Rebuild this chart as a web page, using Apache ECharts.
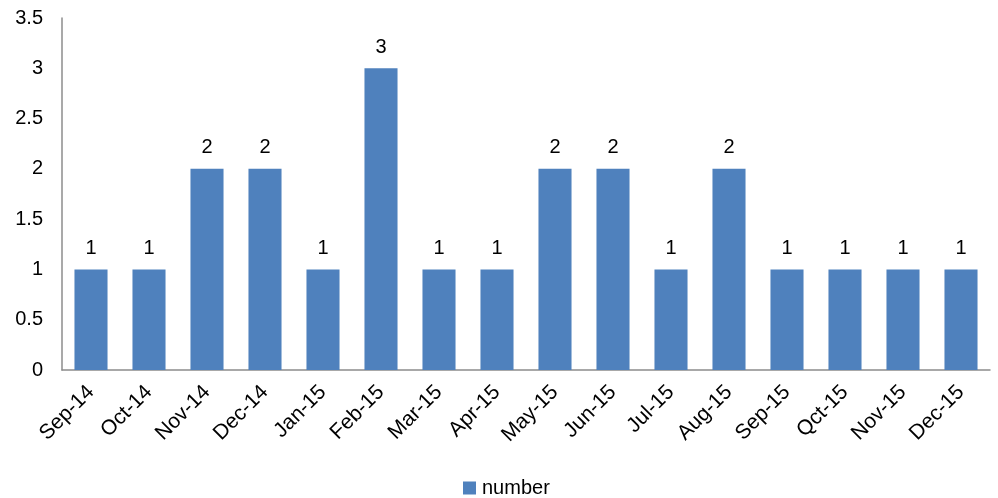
<!DOCTYPE html>
<html>
<head>
<meta charset="utf-8">
<script src="https://cdn.jsdelivr.net/npm/echarts@6/dist/echarts.min.js"></script>
<style>
  html, body { margin: 0; padding: 0; background: #fff; }
  #chart { width: 998px; height: 498px; }
</style>
</head>
<body>
<div id="chart"></div>
<script>
const months = ['Sep-14', 'Oct-14', 'Nov-14', 'Dec-14', 'Jan-15', 'Feb-15', 'Mar-15', 'Apr-15',
  'May-15', 'Jun-15', 'Jul-15', 'Aug-15', 'Sep-15', 'Qct-15', 'Nov-15', 'Dec-15'];
const counts = [1, 1, 2, 2, 1, 3, 1, 1, 2, 2, 1, 2, 1, 1, 1, 1];
const yTicks = { min: 0, max: 3.5, interval: 0.5 };

~function () {
  let myChart = echarts.init(document.getElementById('chart'));
  let font = 'Liberation Sans, Arial, sans-serif';
  let option = {
    animation: false,
    grid: { left: 62, right: 8, top: 18, bottom: 128 },
    legend: {
      bottom: 0,
      left: 463,
      padding: 0,
      itemWidth: 13,
      itemHeight: 13,
      itemGap: 5,
      icon: 'rect',
      textStyle: { fontFamily: font, fontSize: 20, color: '#000', padding: [0, 0, 0, 1] },
      data: ['number']
    },
    xAxis: {
      type: 'category',
      data: months,
      axisLine: { lineStyle: { color: '#8c8c8c', width: 1.5 } },
      axisTick: { show: false },
      axisLabel: {
        rotate: 45,
        interval: 0,
        margin: 19,
        fontFamily: font,
        fontSize: 21,
        color: '#000'
      }
    },
    yAxis: {
      type: 'value',
      min: yTicks.min,
      max: yTicks.max,
      interval: yTicks.interval,
      axisLine: { show: true, lineStyle: { color: '#8c8c8c', width: 1.5 } },
      axisTick: { show: false },
      splitLine: { show: false },
      axisLabel: {
        margin: 19,
        fontFamily: font,
        fontSize: 20,
        color: '#000'
      }
    },
    series: [
      {
        name: 'number',
        type: 'bar',
        data: counts,
        barWidth: '57%',
        itemStyle: { color: '#4F81BD' },
        label: {
          show: true,
          position: 'top',
          distance: 11,
          fontFamily: font,
          fontSize: 20,
          color: '#000'
        }
      }
    ]
  };
  myChart.setOption(option);
}();
</script>
</body>
</html>
